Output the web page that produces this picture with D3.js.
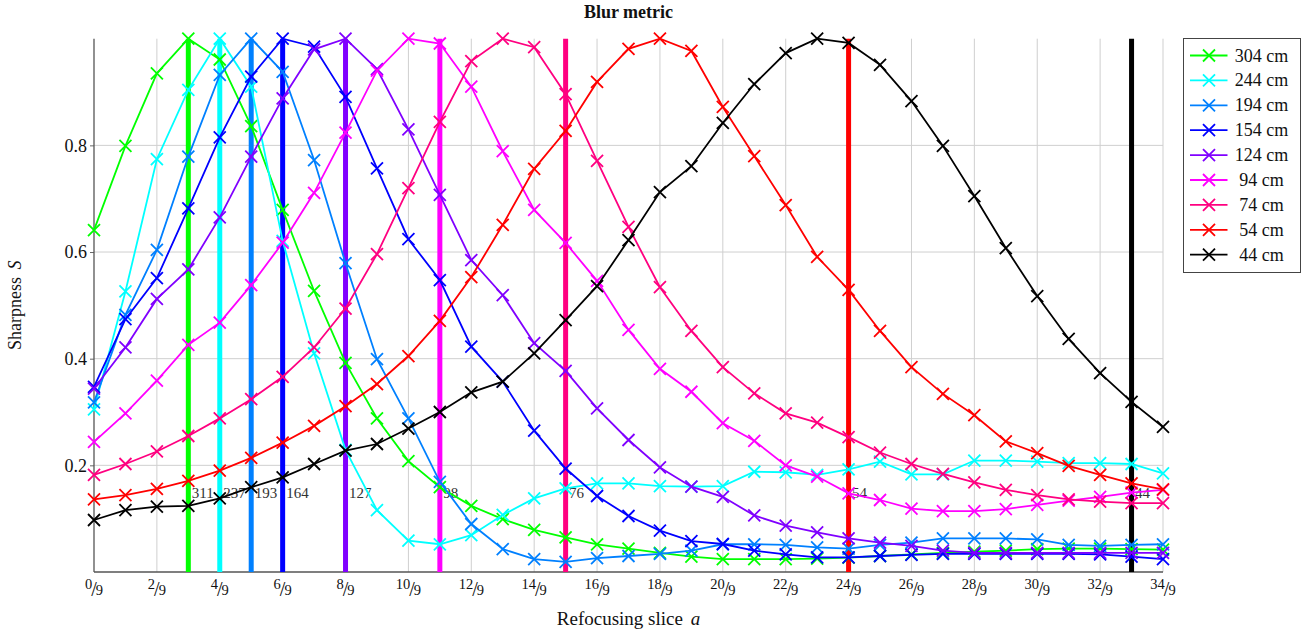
<!DOCTYPE html>
<html>
<head>
<meta charset="utf-8">
<script src="https://cdn.jsdelivr.net/npm/d3@7"></script>
<style>
  body { margin: 0; background: #fff; }
  text { font-family: 'Liberation Serif', 'DejaVu Serif', serif; }
</style>
</head>
<body>
<svg id="chart"></svg>
<script>
// slices a = i/9
const slices = [0,1,2,3,4,5,6,7,8,9,10,11,12,13,14,15,16,17,18,19,20,21,22,23,24,25,26,27,28,29,30,31,32,33,34];
const xTicks = [0,2,4,6,8,10,12,14,16,18,20,22,24,26,28,30,32,34];
const yTicks = [0.2, 0.4, 0.6, 0.8];

const names = ['304 cm','244 cm','194 cm','154 cm','124 cm','94 cm','74 cm','54 cm','44 cm'];
const colors = ['#00ff00','#00ffff','#0080ff','#0000ff','#8000ff','#ff00ff','#ff0080','#ff0000','#000000'];

const s304 = [0.641,0.799,0.935,1.0,0.961,0.836,0.679,0.527,0.392,0.288,0.208,0.159,0.124,0.099,0.079,0.065,0.052,0.044,0.036,0.029,0.024,0.024,0.024,0.025,0.027,0.030,0.033,0.036,0.038,0.040,0.043,0.044,0.044,0.043,0.042];
const s244 = [0.305,0.526,0.774,0.904,1.0,0.91,0.621,0.41,0.229,0.116,0.059,0.052,0.069,0.107,0.138,0.157,0.166,0.166,0.161,0.16,0.161,0.188,0.187,0.182,0.1925,0.207,0.183,0.183,0.209,0.209,0.207,0.204,0.204,0.2025,0.185];
const s194 = [0.318,0.482,0.604,0.779,0.932,1.0,0.938,0.7725,0.579,0.399,0.288,0.169,0.09,0.043,0.024,0.019,0.026,0.030,0.034,0.040,0.052,0.052,0.051,0.046,0.044,0.051,0.055,0.063,0.063,0.063,0.061,0.051,0.049,0.051,0.052];
const s154 = [0.347,0.474,0.551,0.682,0.815,0.929,1.0,0.985,0.891,0.757,0.624,0.5475,0.4225,0.357,0.265,0.194,0.1425,0.105,0.0775,0.058,0.0525,0.040,0.033,0.0275,0.0275,0.030,0.032,0.034,0.034,0.034,0.034,0.034,0.033,0.029,0.024];
const s124 = [0.344,0.421,0.512,0.5675,0.665,0.779,0.888,0.98,1.0,0.943,0.83,0.707,0.585,0.519,0.429,0.377,0.307,0.2475,0.196,0.16,0.141,0.106,0.087,0.0745,0.063,0.055,0.049,0.040,0.036,0.036,0.036,0.036,0.036,0.036,0.036];
const s94 = [0.244,0.2975,0.359,0.426,0.4675,0.538,0.6175,0.711,0.824,0.94,1.0,0.991,0.91,0.789,0.679,0.617,0.546,0.454,0.381,0.338,0.279,0.246,0.2,0.179,0.1475,0.135,0.119,0.114,0.114,0.118,0.126,0.134,0.141,0.149,0.154];
const s74 = [0.182,0.2025,0.226,0.255,0.288,0.324,0.366,0.421,0.494,0.596,0.72,0.844,0.958,1.0,0.984,0.896,0.771,0.647,0.534,0.452,0.384,0.335,0.2975,0.28,0.253,0.224,0.2025,0.184,0.168,0.154,0.144,0.136,0.132,0.129,0.129];
const s54 = [0.136,0.144,0.156,0.171,0.19,0.214,0.2425,0.274,0.311,0.3525,0.405,0.471,0.553,0.651,0.756,0.827,0.919,0.981,1.0,0.977,0.872,0.78,0.688,0.591,0.529,0.452,0.384,0.334,0.294,0.245,0.223,0.199,0.182,0.166,0.155];
const s44 = [0.0975,0.116,0.1225,0.124,0.138,0.159,0.1775,0.2025,0.2275,0.24,0.269,0.3,0.337,0.357,0.41,0.4725,0.536,0.6225,0.7125,0.761,0.842,0.915,0.973,1.0,0.992,0.951,0.883,0.799,0.705,0.6075,0.5175,0.437,0.373,0.319,0.272];

// best-focus slice per distance, with its label
const peakSlices = [3,4,5,6,8,11,15,24,33];
const peakLabels = ['311','237','193','164','127','98','76','54','44'];
const peakLabelY = 0.139;

const seriesValues = [s304, s244, s194, s154, s124, s94, s74, s54, s44];

const width = 1312;
const height = 635;
const margin = {left: 94, right: 149, top: 38.7, bottom: 63};

const svg = d3.select('#chart')
    .attr('width', width)
    .attr('height', height);

const x = d3.scaleLinear().domain([0, 34]).range([margin.left, width - margin.right]);
const y = d3.scaleLinear().domain([0, 1]).range([height - margin.bottom, margin.top]);

// grid
svg.append('g')
    .attr('class', 'grid-x')
  .selectAll('line')
  .data(xTicks.filter(d => d > 0))
  .enter()
  .append('line')
    .attr('x1', d => x(d)).attr('x2', d => x(d))
    .attr('y1', y(0)).attr('y2', y(1))
    .attr('stroke', '#cfcfcf')
    .attr('stroke-width', 1);

svg.append('g')
    .attr('class', 'grid-y')
  .selectAll('line')
  .data(yTicks)
  .enter()
  .append('line')
    .attr('x1', x(0)).attr('x2', x(34))
    .attr('y1', d => y(d)).attr('y2', d => y(d))
    .attr('stroke', '#cfcfcf')
    .attr('stroke-width', 1);

// axes
const yAxis = d3.axisLeft(y).tickValues(yTicks).tickSize(4).tickFormat(d3.format('.1f'));
const gy = svg.append('g').attr('transform', `translate(${x(0)},0)`).call(yAxis);
gy.select('.domain').remove();
gy.selectAll('.tick line').attr('stroke', '#666');
gy.selectAll('.tick text')
    .attr('font-family', 'Liberation Serif')
    .attr('font-size', 18)
    .attr('fill', '#111')
    .attr('x', -7);

svg.append('line')
    .attr('x1', x(0)).attr('x2', x(0))
    .attr('y1', y(0)).attr('y2', y(1))
    .attr('stroke', '#555').attr('stroke-width', 1.3);
svg.append('line')
    .attr('x1', x(0)).attr('x2', x(34))
    .attr('y1', y(0)).attr('y2', y(0))
    .attr('stroke', '#555').attr('stroke-width', 1.3);

// x tick labels as small fractions n/9
const xLab = svg.append('g').attr('class', 'x-labels')
  .selectAll('text')
  .data(xTicks)
  .enter()
  .append('text')
    .attr('x', d => x(d))
    .attr('y', 589)
    .attr('text-anchor', 'middle')
    .attr('fill', '#111');
xLab.append('tspan').attr('font-size', 14.5).text(d => d);
xLab.append('tspan').attr('font-size', 20).attr('dy', 7).attr('dx', -1).text('/');
xLab.append('tspan').attr('font-size', 14.5).attr('dy', -1).attr('dx', -1).text('9');

// best-focus lines
svg.append('g')
    .attr('class', 'peaks')
  .selectAll('line')
  .data(peakSlices)
  .enter()
  .append('line')
    .attr('x1', d => x(d)).attr('x2', d => x(d))
    .attr('y1', y(0)).attr('y2', y(1))
    .attr('stroke', (d, i) => colors[i])
    .attr('stroke-width', 5);

svg.append('g')
    .attr('class', 'peak-labels')
  .selectAll('text')
  .data(peakSlices)
  .enter()
  .append('text')
    .attr('x', d => x(d) + 3.5)
    .attr('y', y(peakLabelY))
    .attr('font-size', 15)
    .attr('fill', '#333')
    .text((d, i) => peakLabels[i]);

// series
const line = d3.line()
    .x((d, i) => x(slices[i]))
    .y(d => y(d));

const cross = (sel, s) => sel.attr('d', `M${-s},${-s}L${s},${s}M${-s},${s}L${s},${-s}`);

seriesValues.forEach((vals, k) => {
    const g = svg.append('g').attr('class', 'series');
    g.append('path')
        .attr('d', line(vals))
        .attr('fill', 'none')
        .attr('stroke', colors[k])
        .attr('stroke-width', 1.8);
    g.selectAll('path.m')
      .data(vals)
      .enter()
      .append('path')
        .attr('class', 'm')
        .attr('transform', (d, i) => `translate(${x(slices[i])},${y(d)})`)
        .call(cross, 6)
        .attr('stroke', colors[k])
        .attr('stroke-width', 1.8)
        .attr('fill', 'none');
});

// title
svg.append('text')
    .attr('x', (x(0) + x(34)) / 2)
    .attr('y', 18)
    .attr('text-anchor', 'middle')
    .attr('font-size', 18)
    .attr('font-weight', 'bold')
    .attr('fill', '#111')
    .text('Blur metric');

// axis titles
const xt = svg.append('text')
    .attr('x', (x(0) + x(34)) / 2)
    .attr('y', 625)
    .attr('text-anchor', 'middle')
    .attr('font-size', 19)
    .attr('fill', '#111');
xt.append('tspan').text('Refocusing slice ');
xt.append('tspan').attr('font-style', 'italic').attr('dx', 3).text('a');

const yt = svg.append('text')
    .attr('transform', `translate(21,${(y(0) + y(1)) / 2}) rotate(-90)`)
    .attr('text-anchor', 'middle')
    .attr('font-size', 18)
    .attr('fill', '#111');
yt.append('tspan').text('Sharpness ');
yt.append('tspan').attr('font-style', 'italic').attr('dx', 3).text('S');

// legend
const legend = svg.append('g').attr('transform', 'translate(1183.5,38.5)');
legend.append('rect')
    .attr('width', 117)
    .attr('height', 234)
    .attr('fill', '#fff')
    .attr('stroke', '#444')
    .attr('stroke-width', 1);

const item = legend.selectAll('g.item')
  .data(names)
  .enter()
  .append('g')
    .attr('class', 'item')
    .attr('transform', (d, i) => `translate(0,${17 + i * 24.9})`);
item.append('line')
    .attr('x1', 6.5).attr('x2', 44)
    .attr('stroke', (d, i) => colors[i])
    .attr('stroke-width', 1.8);
item.append('path')
    .attr('transform', 'translate(25.5,0)')
    .call(cross, 6)
    .attr('stroke', (d, i) => colors[i])
    .attr('stroke-width', 1.8);
item.append('text')
    .attr('x', 78)
    .attr('y', 6)
    .attr('text-anchor', 'middle')
    .attr('font-size', 18)
    .attr('fill', '#111')
    .text(d => d);
</script>
</body>
</html>
